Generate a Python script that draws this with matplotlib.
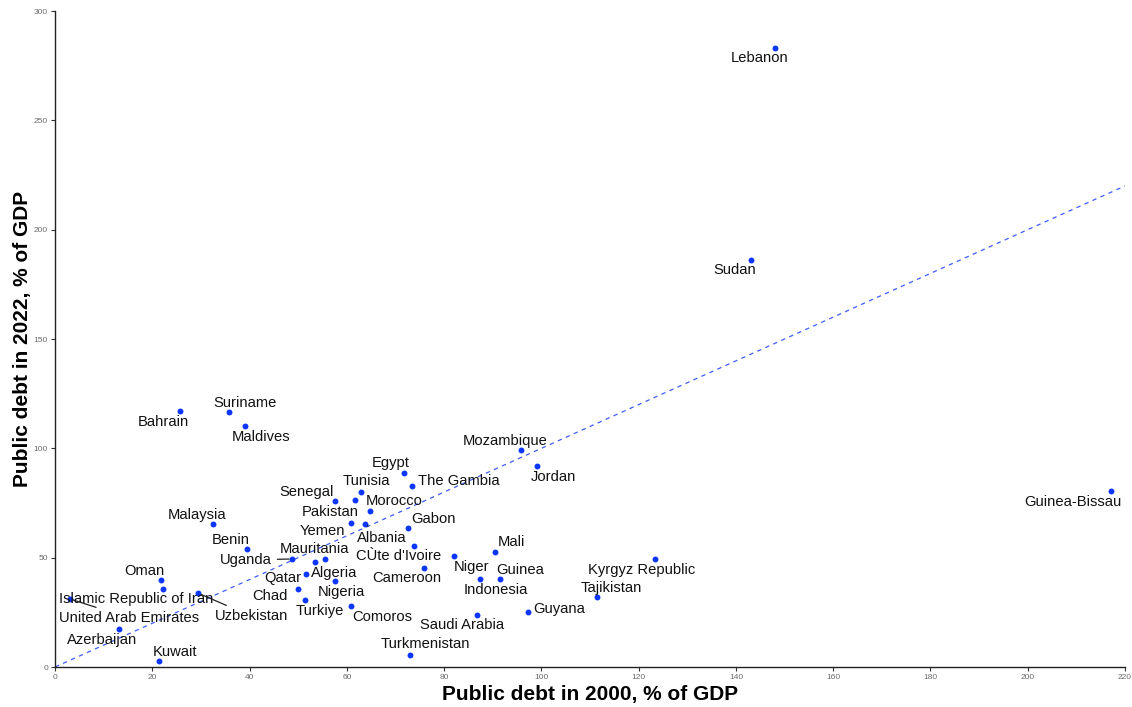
import matplotlib
matplotlib.use("Agg")
import matplotlib.pyplot as plt

# Public debt, % of GDP, in 2000 and 2022
countries = [
    "Lebanon", "Sudan", "Guinea-Bissau", "Bahrain", "Suriname", "Maldives",
    "Mozambique", "Jordan", "Egypt", "The Gambia", "Tunisia", "Senegal",
    "Pakistan", "Morocco", "Yemen", "Albania", "Gabon", "CÙte d'Ivoire",
    "Cameroon", "Mali", "Niger", "Guinea", "Indonesia", "Guyana",
    "Saudi Arabia", "Turkmenistan", "Kyrgyz Republic", "Tajikistan",
    "Malaysia", "Benin", "Uganda", "Mauritania", "Algeria", "Qatar",
    "Chad", "Nigeria", "Turkiye", "Comoros", "Oman",
    "Islamic Republic of Iran", "United Arab Emirates", "Uzbekistan",
    "Azerbaijan", "Kuwait",
]
debt_2000 = [
    148.1, 143.2, 217.2, 25.8, 35.8, 39.1,
    95.8, 99.2, 71.7, 73.3, 62.9, 57.6,
    61.7, 64.8, 60.9, 63.8, 72.5, 73.9,
    75.9, 90.5, 82.1, 91.5, 87.4, 97.2,
    86.7, 72.9, 123.4, 111.4,
    32.5, 39.5, 48.7, 53.5, 55.5, 51.7,
    49.9, 57.6, 51.4, 60.9, 21.8,
    22.2, 3.1, 29.5,
    13.2, 21.4,
]
debt_2022 = [
    283.3, 186.0, 80.5, 116.9, 116.7, 110.3,
    99.2, 91.8, 88.6, 82.9, 79.9, 75.9,
    76.3, 71.5, 65.8, 65.5, 63.6, 55.2,
    45.3, 52.7, 50.6, 40.1, 40.1, 25.0,
    23.9, 5.5, 49.2, 32.0,
    65.5, 54.1, 49.4, 48.0, 49.4, 42.4,
    35.8, 39.3, 30.8, 28.0, 39.8,
    35.6, 31.1, 33.7,
    17.2, 2.7,
]
x_ticks = [0, 20, 40, 60, 80, 100, 120, 140, 160, 180, 200, 220]
y_ticks = [0, 50, 100, 150, 200, 250, 300]

# Label placement: offset of the label centre from its point, in pixels
# (x to the right, y downward); some labels get a leader segment.
label_offsets = {
    "Lebanon": (-16, 10), "Sudan": (-17, 10), "Guinea-Bissau": (-39, 11),
    "Bahrain": (-17, 11), "Suriname": (16, -9), "Maldives": (16, 11),
    "Mozambique": (-16, -9), "Jordan": (16, 11), "Egypt": (-13, -10),
    "The Gambia": (47, -5), "Tunisia": (5, -11), "Senegal": (-29, -9),
    "Pakistan": (-25, 12), "Morocco": (24, -10), "Yemen": (-29, 8),
    "Albania": (16, 14), "Gabon": (26, -9), "CÙte d'Ivoire": (-16, 10),
    "Cameroon": (-17, 10), "Mali": (16, -10), "Niger": (17, 11),
    "Guinea": (20, -9), "Indonesia": (16, 11), "Guyana": (31, -3),
    "Saudi Arabia": (-15, 10), "Turkmenistan": (16, -11),
    "Kyrgyz Republic": (-14, 11), "Tajikistan": (15, -9),
    "Malaysia": (-16, -9), "Benin": (-16, -9), "Uganda": (-46, 1),
    "Mauritania": (-1, -13), "Algeria": (9, 14), "Qatar": (-24, 4),
    "Chad": (-28, 7), "Nigeria": (6, 11), "Turkiye": (15, 11),
    "Comoros": (31, 11), "Oman": (-17, -9),
    "Islamic Republic of Iran": (-27, 10), "United Arab Emirates": (59, 19),
    "Uzbekistan": (53, 23), "Azerbaijan": (-17, 11), "Kuwait": (16, -9),
}
leader_lines = {"Uganda", "Albania", "United Arab Emirates", "Uzbekistan"}

DPI = 100
W, H = 1132, 707
fig = plt.figure(figsize=(W / DPI, H / DPI), dpi=DPI)
ax = fig.add_axes([55 / W, 1 - 667 / H, 1070 / W, 656 / H])

label_font = ["Liberation Sans", "DejaVu Sans"]
point_color = "#0a36ff"

# 45-degree reference line
ax.plot([0, 220], [0, 220], linestyle=(0, (3.5, 3.5)), color="#3f5cff",
        linewidth=0.9, zorder=1)

ax.scatter(debt_2000, debt_2022, s=18, color=point_color, linewidths=0,
           zorder=3)

for name, xv, yv in zip(countries, debt_2000, debt_2022):
    dx, dy = label_offsets[name]
    extra = {}
    if name in leader_lines:
        extra["arrowprops"] = dict(arrowstyle="-", color="#222222", lw=0.9,
                                   shrinkA=2, shrinkB=2)
    ax.annotate(
        name, xy=(xv, yv), xytext=(dx, -dy), textcoords="offset pixels",
        ha="center", va="center", fontsize=10.6, family=label_font,
        color="#111111", zorder=4, **extra,
    )

ax.set_xlim(0, 220)
ax.set_ylim(0, 300)
ax.set_xticks(x_ticks)
ax.set_yticks(y_ticks)
ax.tick_params(axis="both", labelsize=6, labelcolor="#6b6b6b", length=3,
               width=0.8, color="#333333", pad=2)
for lab in ax.get_xticklabels() + ax.get_yticklabels():
    lab.set_family(label_font)

for side in ("top", "right"):
    ax.spines[side].set_visible(False)
for side in ("left", "bottom"):
    ax.spines[side].set_linewidth(1.0)
    ax.spines[side].set_color("#222222")

ax.set_xlabel("Public debt in 2000, % of GDP", fontsize=15,
              fontweight="bold", family=label_font, labelpad=3)
ax.set_ylabel("Public debt in 2022, % of GDP", fontsize=15,
              fontweight="bold", family=label_font)
ax.yaxis.set_label_coords(-(55 - 32) / 1070, 0.5)

fig.savefig("out.png", dpi=DPI)
